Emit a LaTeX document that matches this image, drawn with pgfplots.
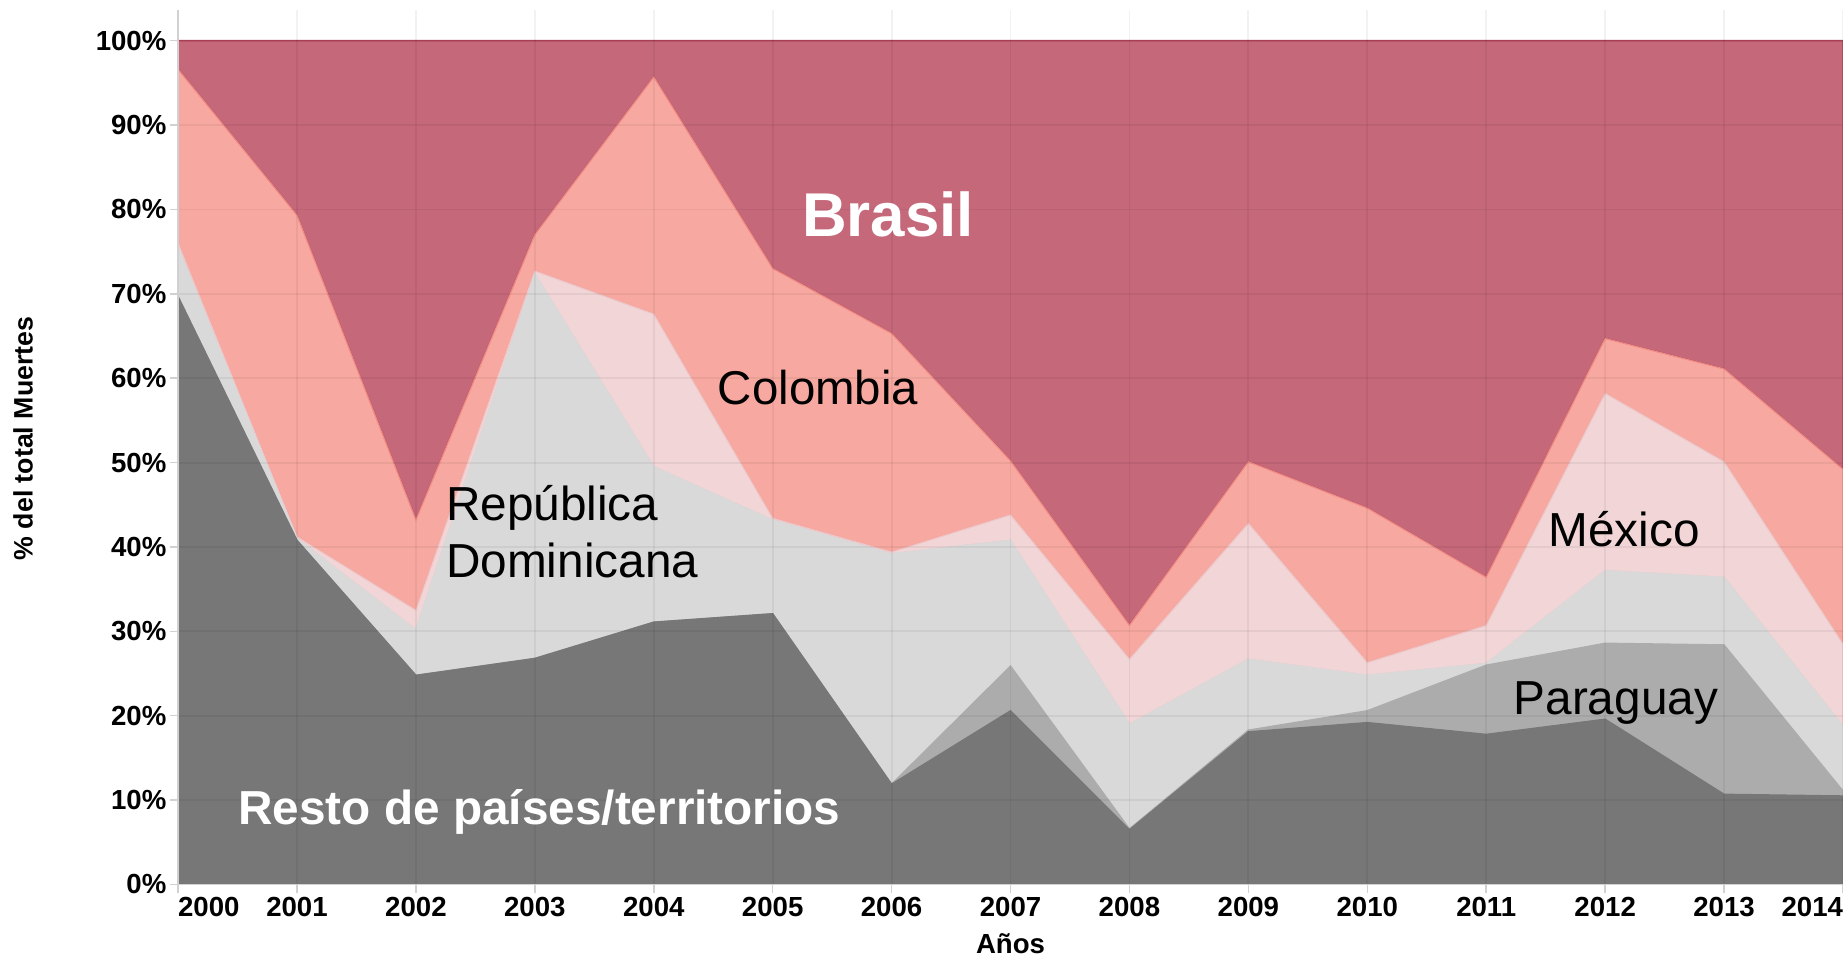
\documentclass[border=0pt]{standalone}
\usepackage{fontspec}
\setmainfont{Liberation Sans}
\usepackage{pgfplots}
\pgfplotsset{compat=1.18}
\usepackage{pgfplotstable}

\definecolor{brasil}{HTML}{C4687A}
\definecolor{brasilline}{HTML}{B3425A}
\definecolor{colombia}{HTML}{F7A8A0}
\definecolor{colombialine}{HTML}{F08C86}
\definecolor{mexico}{HTML}{F2D5D6}
\definecolor{mexicoline}{HTML}{EEC6C7}
\definecolor{repdom}{HTML}{D9D9D9}
\definecolor{paraguay}{HTML}{ACACAC}
\definecolor{resto}{HTML}{777777}

% share of deaths per country, percent of total, one row per year
\pgfplotstableread{
year resto paraguay repdom mexico colombia brasil
2000 69.7  0.0  5.8  0.5 20.6  3.4
2001 40.8  0.0  0.2  0.2 38.1 20.7
2002 24.8  0.0  5.4  2.3 10.7 56.8
2003 26.8  0.0 45.6  0.3  4.3 23.0
2004 31.1  0.0 18.4 18.1 28.1  4.3
2005 32.1  0.0 11.1  0.2 29.6 27.0
2006 11.9  0.0 27.3  0.2 25.9 34.7
2007 20.6  5.3 14.9  3.0  6.4 49.8
2008  6.5  0.1 12.4  7.7  4.0 69.3
2009 18.1  0.2  8.4 16.1  7.3 49.9
2010 19.2  1.4  4.2  1.5 18.3 55.4
2011 17.8  8.2  0.2  4.5  5.7 63.6
2012 19.6  9.0  8.6 21.0  6.5 35.3
2013 10.7 17.7  8.0 13.7 11.0 38.9
2014 10.5  0.6  7.7  9.7 20.7 50.8
}\datos

\begin{document}
\begin{tikzpicture}
\begin{axis}[
  name=ax,
  scale only axis,
  width=554.67pt, height=291.33pt,
  xmin=2000, xmax=2014, ymin=0, ymax=103.64,
  stack plots=y,
  axis on top,
  axis lines*=left,
  axis line style={draw=black!18, line width=0.5pt},
  tick align=outside,
  major tick length=2.7pt,
  tick style={draw=black!18, line width=0.5pt},
  grid=major,
  major grid style={black, opacity=0.05, line width=0.6pt},
  xtick={2000,2001,...,2014},
  xticklabels={\makebox[0pt][l]{2000},2001,2002,2003,2004,2005,2006,2007,2008,2009,2010,2011,2012,2013,\makebox[0pt][r]{2014}},
  ytick={0,10,...,100},
  yticklabels={0\%,10\%,20\%,30\%,40\%,50\%,60\%,70\%,80\%,90\%,100\%},
  ticklabel style={font=\bfseries\fontsize{9.2}{11}\selectfont},
  yticklabel style={inner sep=1pt},
  xticklabel style={inner sep=1.5pt},
  every axis y label/.style={at={(axis description cs:0,0.51)}, xshift=-51.6pt, rotate=90, anchor=center, font=\bfseries\fontsize{8.9}{11}\selectfont},
  every axis x label/.style={at={(axis description cs:0.5,0)}, anchor=center, yshift=-19.7pt, font=\bfseries\fontsize{9.2}{11}\selectfont},
  ylabel={\% del total Muertes},
  xlabel={Años},
]
\addplot[fill=resto, draw=resto, line width=0.4pt] table[x=year, y=resto]{\datos} \closedcycle;
\addplot[fill=paraguay, draw=paraguay, line width=0.4pt] table[x=year, y=paraguay]{\datos} \closedcycle;
\addplot[fill=repdom, draw=repdom, line width=0.4pt] table[x=year, y=repdom]{\datos} \closedcycle;
\addplot[fill=mexico, draw=mexicoline, line width=0.4pt] table[x=year, y=mexico]{\datos} \closedcycle;
\addplot[fill=colombia, draw=colombialine, line width=0.4pt] table[x=year, y=colombia]{\datos} \closedcycle;
\addplot[fill=brasil, draw=brasilline, line width=0.5pt] table[x=year, y=brasil]{\datos} \closedcycle;
\end{axis}
% labels on the areas, placed from the lower left corner of the plot box
\begin{scope}[shift={(ax.south west)}]
\node[text=white, font=\bfseries\fontsize{20.6}{24}\selectfont, inner sep=0pt] at (236.5pt,223.2pt) {Brasil};
\node[font=\fontsize{15.8}{19}\selectfont, inner sep=0pt] at (213.2pt,165.6pt) {Colombia};
\node[font=\fontsize{15.9}{18.8}\selectfont, inner sep=0pt, anchor=west, align=left] at (89.1pt,117.5pt) {República\\Dominicana};
\node[font=\fontsize{15.9}{19}\selectfont, inner sep=0pt] at (481.8pt,118.3pt) {México};
\node[font=\fontsize{15.9}{19}\selectfont, inner sep=0pt] at (479.0pt,60.4pt) {Paraguay};
\node[text=white, font=\bfseries\fontsize{15.9}{19}\selectfont, inner sep=0pt] at (120.4pt,24.3pt) {Resto de países/territorios};
\end{scope}
\pgfresetboundingbox
\path ([shift={(-59.33pt,-24pt)}]ax.south west) rectangle ([shift={(554.67pt,294.67pt)}]ax.south west);
\end{tikzpicture}
\end{document}
